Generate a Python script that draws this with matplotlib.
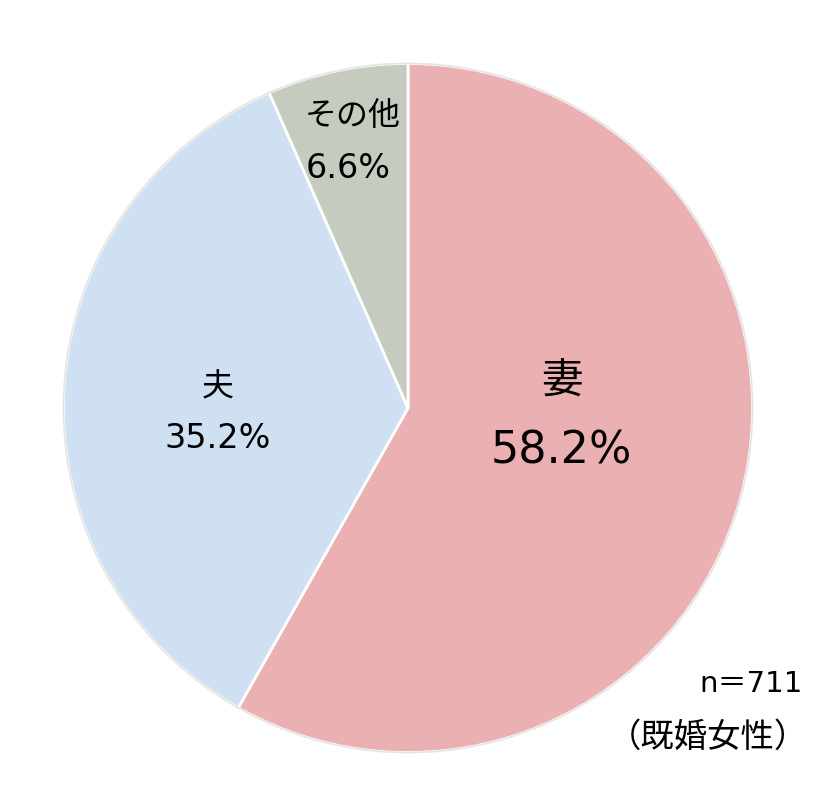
import matplotlib
matplotlib.use('Agg')
import matplotlib.pyplot as plt
from matplotlib.patches import Circle

plt.rcParams['font.family'] = ['Noto Sans CJK JP', 'DejaVu Sans']
num_font = ['DejaVu Sans', 'Noto Sans CJK JP']

labels = ['妻', '夫', 'その他']
shares = [58.2, 35.2, 6.6]
colors = ['#ebb0b1', '#cfe0f2', '#c5cbbe']
note_n = 'n＝711'
note_group = '（既婚女性）'

fig = plt.figure(figsize=(8.18, 7.87), dpi=100)
cx, cy, r = 408, 408, 348
ax = fig.add_axes([(cx - r) / 818, (787 - cy - r) / 787, 2 * r / 818, 2 * r / 787])

wedges, _ = ax.pie(shares, colors=colors, startangle=90, counterclock=False,
                   radius=1, wedgeprops=dict(edgecolor='white', linewidth=2))
ax.add_patch(Circle((0, 0), 1.0, fill=False, edgecolor='#e4e4e4', linewidth=1.2))
ax.set_xlim(-1.01, 1.01)
ax.set_ylim(-1.01, 1.01)
ax.set_aspect('equal')
ax.axis('off')


def to_data(px, py):
    return (px - cx) / r, (cy - py) / r


# label positions in pixels (name, value) and font sizes
pos = [((563, 382), (563, 451), 30, 32),
       ((216, 387), (216, 439), 23, 24),
       ((352, 113), (348, 166), 23, 24)]
for lab, val, (p1, p2, fs1, fs2) in zip(labels, shares, pos):
    ax.text(*to_data(*p1), lab, ha='center', va='center', fontsize=fs1)
    ax.text(*to_data(*p2), f'{val}%', ha='center', va='center', fontsize=fs2,
            family=num_font)

fig.text(803 / 818, 1 - 684 / 787, note_n, ha='right', va='center', fontsize=21,
         family=num_font)
fig.text(808 / 818, 1 - 737 / 787, note_group, ha='right', va='center', fontsize=24)

fig.savefig('out.png', dpi=100)
